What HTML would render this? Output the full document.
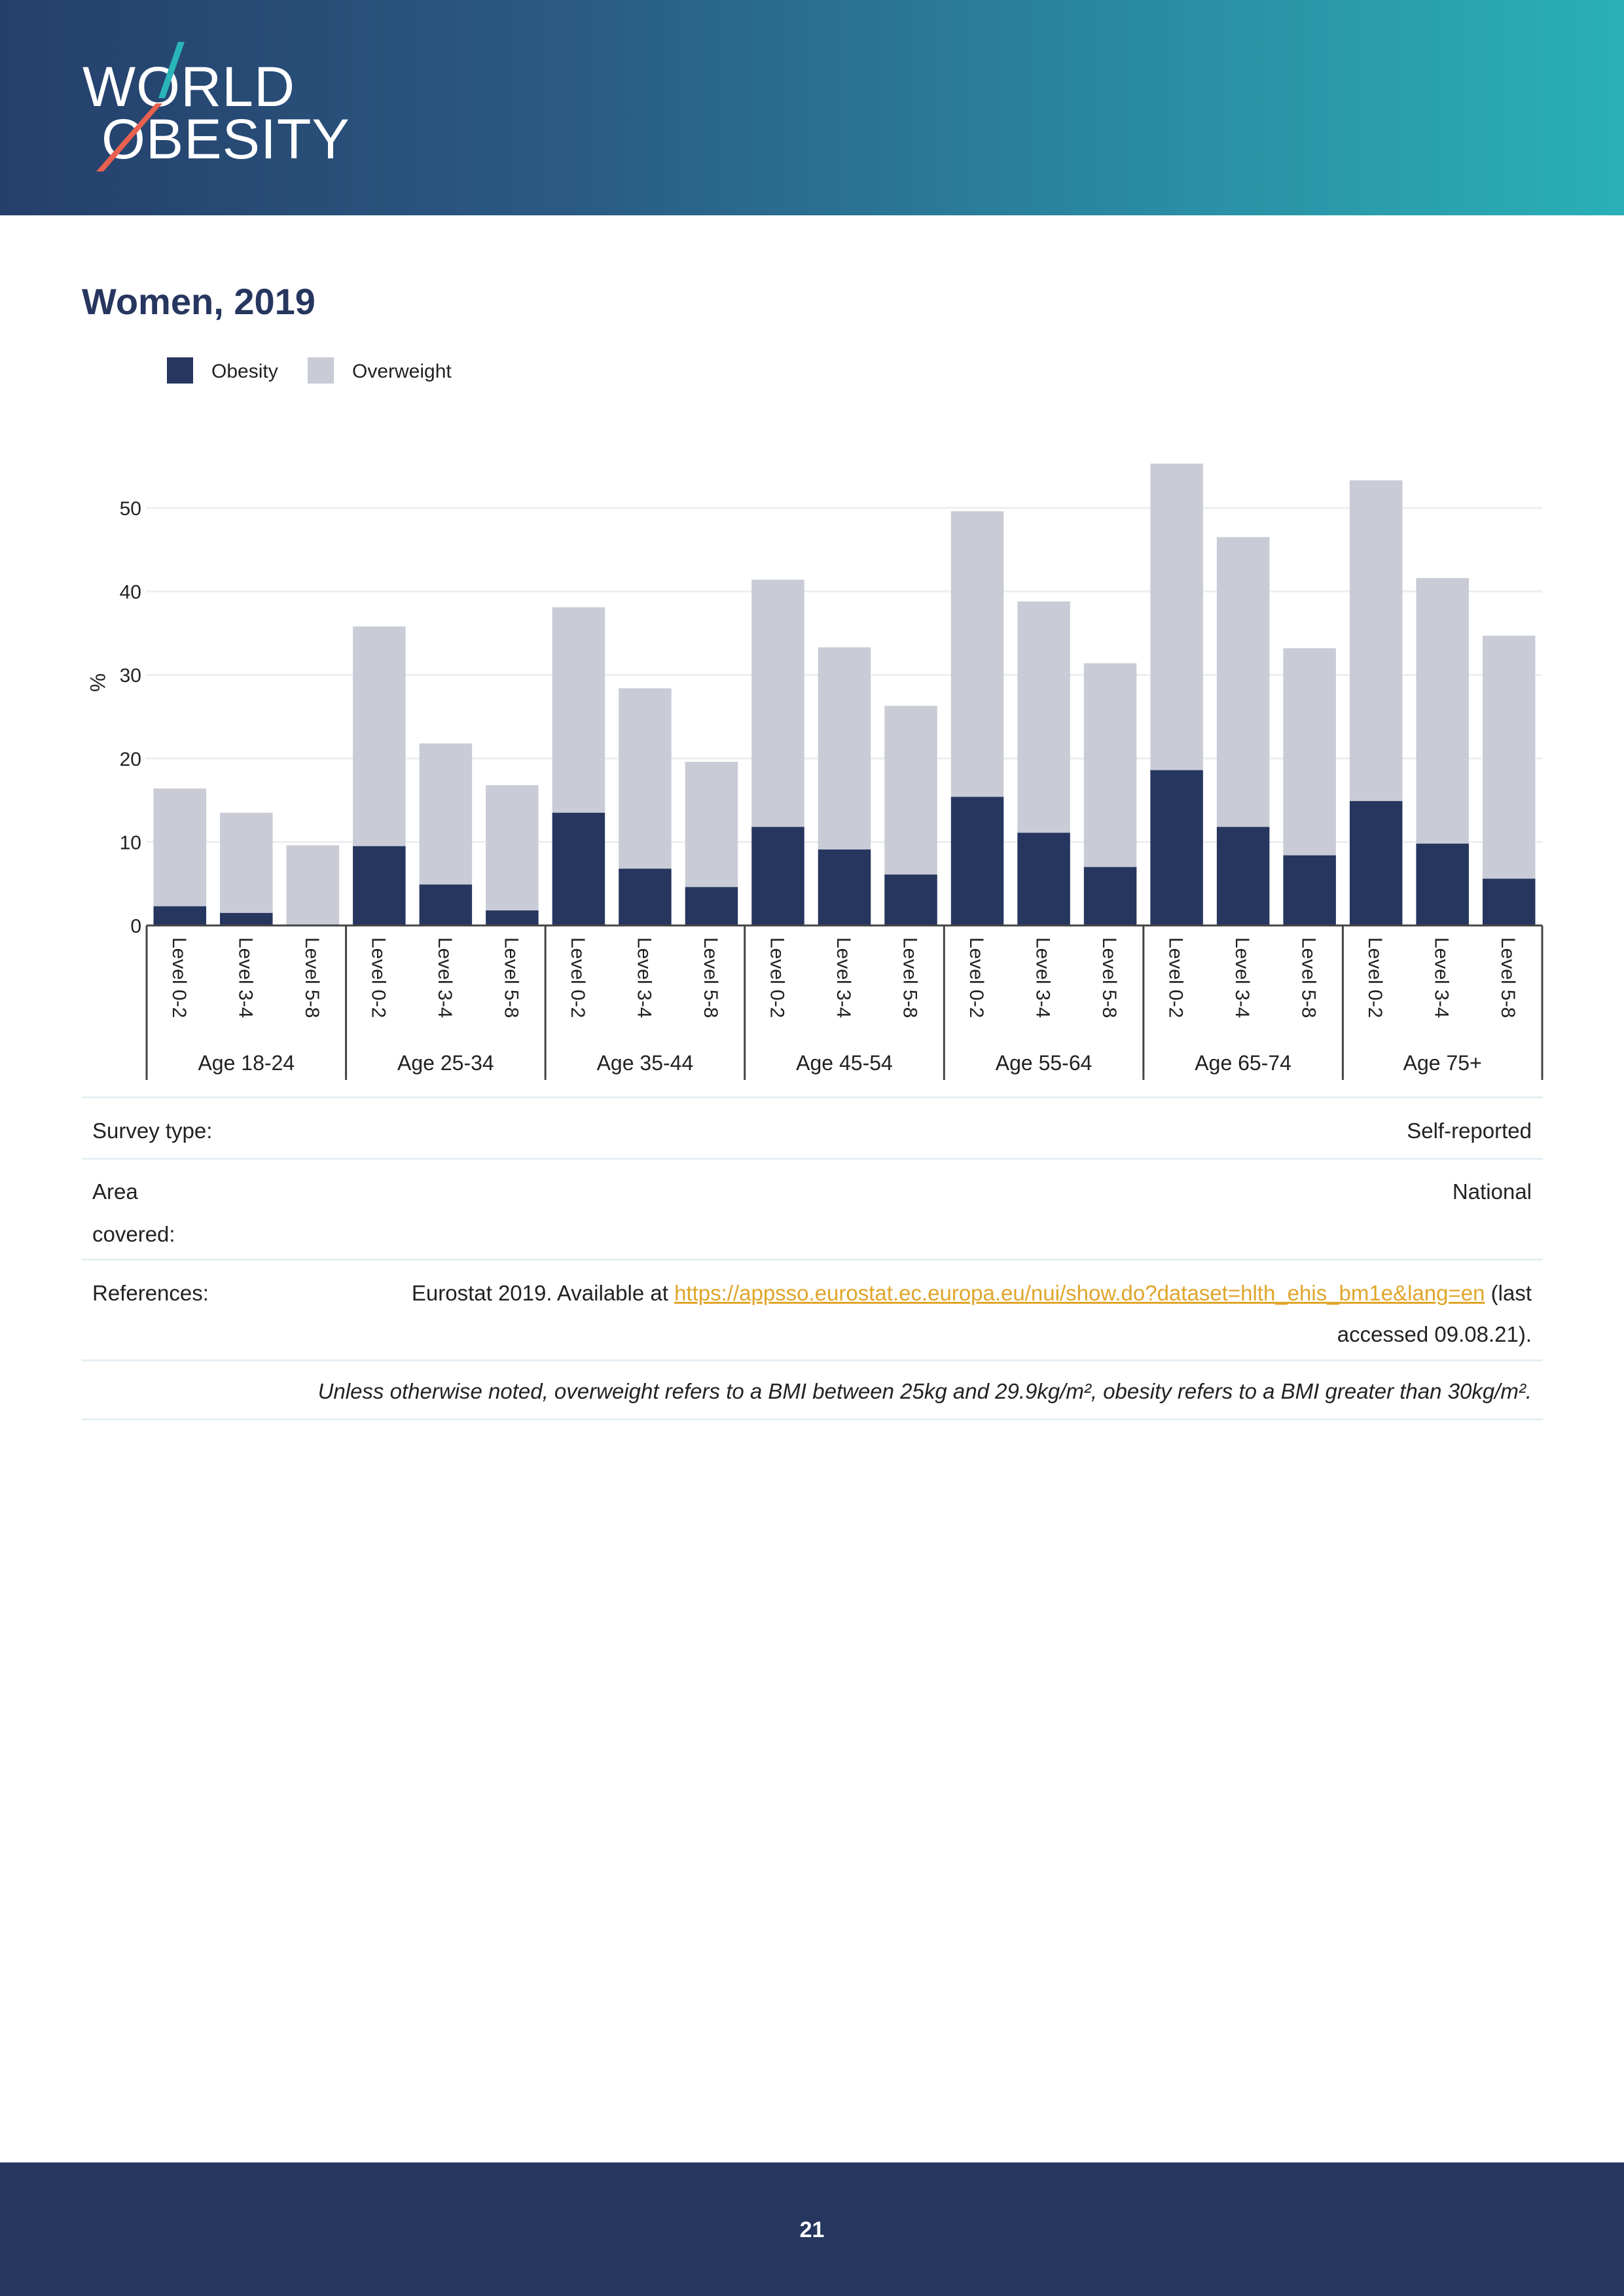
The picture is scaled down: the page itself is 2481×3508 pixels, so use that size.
<!DOCTYPE html>
<html><head><meta charset="utf-8">
<style>
html,body{margin:0;padding:0}
body{width:2481px;height:3508px;position:relative;background:#fff;font-family:"Liberation Sans",sans-serif;overflow:hidden}
.abs{position:absolute}
#header{left:0;top:0;width:2481px;height:329px;background:linear-gradient(90deg,#253f6b 0%,#2a5a82 35%,#2a8aa2 70%,#2ab0b6 100%)}
.logo{color:#fff;font-size:86px;letter-spacing:1px;line-height:1}
#title{left:125px;top:428px;font-size:56px;font-weight:bold;color:#26365f}
.leg-sw{width:40px;height:40px}
.leg-tx{font-size:30px;color:#222}
.row-line{left:125px;width:2232px;height:3px;background:#e6eff3}
.tt{font-size:33px;color:#222}
#footer{left:0;top:3304px;width:2481px;height:204px;background:#26365f}
</style></head><body>
<div id="header" class="abs">
  <div class="abs logo" style="left:126px;top:90px">WORLD</div>
  <div class="abs logo" style="left:155px;top:170px">OBESITY</div>
  <svg class="abs" style="left:0;top:0" width="600" height="329">
    <polygon points="272,64 282,64 252,150 242,150" fill="#2ab5b8"/>
    <polygon points="238,158 248,158 158,262 147,262" fill="#e8604f"/>
  </svg>
</div>
<div id="title" class="abs">Women, 2019</div>
<div class="abs leg-sw" style="left:255px;top:546px;background:#26365f"></div>
<div class="abs leg-tx" style="left:323px;top:551px">Obesity</div>
<div class="abs leg-sw" style="left:470px;top:546px;background:#c9cbd6"></div>
<div class="abs leg-tx" style="left:538px;top:551px">Overweight</div>

<svg id="chart" class="abs" style="left:0;top:0" width="2481" height="1680"></svg>

<div class="abs row-line" style="top:1675px"></div>
<div class="abs tt" style="left:141px;top:1709px">Survey type:</div>
<div class="abs tt" style="right:141px;top:1709px">Self-reported</div>
<div class="abs row-line" style="top:1769px"></div>
<div class="abs tt" style="left:141px;top:1788px;line-height:65px">Area<br>covered:</div>
<div class="abs tt" style="right:141px;top:1788px;line-height:65px">National</div>
<div class="abs row-line" style="top:1923px"></div>
<div class="abs tt" style="left:141px;top:1957px">References:</div>
<div class="abs tt" style="right:141px;top:1944px;text-align:right;line-height:63px;width:1900px">Eurostat 2019. Available at <span style="color:#e0a52a;text-decoration:underline">https://appsso.eurostat.ec.europa.eu/nui/show.do?dataset=hlth_ehis_bm1e&amp;lang=en</span> (last<br>accessed 09.08.21).</div>
<div class="abs row-line" style="top:2077px"></div>
<div class="abs tt" style="right:141px;top:2107px;font-style:italic">Unless otherwise noted, overweight refers to a BMI between 25kg and 29.9kg/m², obesity refers to a BMI greater than 30kg/m².</div>
<div class="abs row-line" style="top:2167px"></div>

<div id="footer" class="abs">
  <div class="abs" style="left:0;width:2481px;top:84px;text-align:center;color:#fff;font-weight:bold;font-size:34px">21</div>
</div>

<script>
const groups = ["Age 18-24","Age 25-34","Age 35-44","Age 45-54","Age 55-64","Age 65-74","Age 75+"];
const levels = ["Level 0-2","Level 3-4","Level 5-8"];
const obesity = [2.3,1.5,0, 9.5,4.9,1.8, 13.5,6.8,4.6, 11.8,9.1,6.1, 15.4,11.1,7.0, 18.6,11.8,8.4, 14.9,9.8,5.6];
const overweight = [14.1,12.0,9.6, 26.3,16.9,15.0, 24.6,21.6,15.0, 29.6,24.2,20.2, 34.2,27.7,24.4, 36.7,34.7,24.8, 38.4,31.8,29.1];
const yTicks = [0,10,20,30,40,50];

const svg = document.getElementById('chart');
const NS = 'http://www.w3.org/2000/svg';
const X0 = 224, X1 = 2356, Y0 = 1414, PX = 12.76;
const groupW = (X1 - X0) / groups.length, barStep = groupW / levels.length, barW = 80.5;
function y(v){ return Y0 - v * PX; }
function xc(i){ return X0 + (i + 0.5) * barStep; }
function mk(tag, attrs){ const e = document.createElementNS(NS, tag); for (const k in attrs) e.setAttribute(k, attrs[k]); svg.appendChild(e); return e; }

yTicks.forEach(t => {
  if (t > 0) {
    const g = mk('line', {x1:X0, x2:X1, y1:y(t), y2:y(t), stroke:'#eceef0', 'stroke-width':3});
    
    
  }
  const l = mk('text', {x:216, y:y(t)+11, 'text-anchor':'end', 'font-size':30, fill:'#222', 'font-family':'Liberation Sans, sans-serif'});
  l.textContent = t;
  
  
});
const yt = mk('text', {x:0, y:0, transform:'translate(138,1043) rotate(90)', 'text-anchor':'middle', 'font-size':32, fill:'#222', 'font-family':'Liberation Sans, sans-serif'});
yt.textContent = '%';



obesity.forEach((ob, i) => {
  const ow = overweight[i];
  const r1 = mk('rect', {x:xc(i)-barW/2, y:y(ob+ow), width:barW, height:ow*PX, fill:'#c9cbd6'});
  
  
  const r2 = mk('rect', {x:xc(i)-barW/2, y:y(ob), width:barW, height:ob*PX, fill:'#26365f'});
  
  
  const t = mk('text', {x:0, y:0, transform:'translate(' + (xc(i)-11) + ',1432) rotate(90)', 'font-size':30, fill:'#222', 'font-family':'Liberation Sans, sans-serif'});
  t.textContent = levels[i % levels.length];
  
  
});

const ax = mk('line', {x1:X0, x2:X1, y1:Y0, y2:Y0, stroke:'#444', 'stroke-width':3});


for (let g = 0; g <= groups.length; g++) {
  const s = mk('line', {x1:X0+g*groupW, x2:X0+g*groupW, y1:Y0, y2:1650, stroke:'#444', 'stroke-width':3});
  
  
}
groups.forEach((gname, g) => {
  const t = mk('text', {x:X0+(g+0.5)*groupW, y:1635, 'text-anchor':'middle', 'font-size':32, fill:'#222', 'font-family':'Liberation Sans, sans-serif'});
  t.textContent = gname;
  
  
});
</script>
</body></html>
